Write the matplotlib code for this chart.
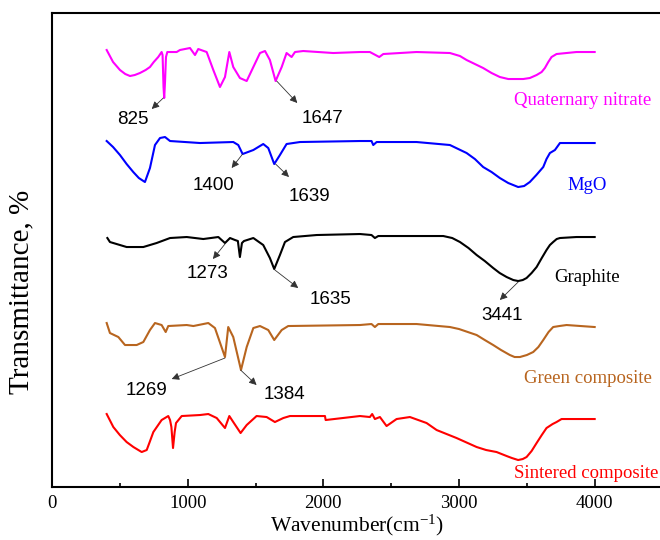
import matplotlib
matplotlib.use("Agg")
import matplotlib.pyplot as plt
from matplotlib.ticker import MultipleLocator

plt.rcParams['mathtext.fontset'] = 'custom'
plt.rcParams['mathtext.rm'] = 'Liberation Serif'
plt.rcParams['mathtext.default'] = 'regular'

serif = 'Liberation Serif'
sans = 'Liberation Sans'

# spectra, shifted vertically (arbitrary units)
qn_wn = [403, 450, 501, 540, 575, 610, 648, 690, 722, 750, 783, 808, 815, 822, 827, 833, 840,
         850, 870, 919, 943, 1017, 1054, 1078, 1140, 1189, 1238, 1275, 1307, 1336, 1385, 1435,
         1484, 1533, 1570, 1606, 1648, 1693, 1729, 1766, 1791, 1852, 2073, 2270, 2343, 2412,
         2442, 2687, 2933, 3007, 3056, 3117, 3178, 3240, 3301, 3363, 3424, 3473, 3522, 3572,
         3609, 3633, 3658, 3682, 3719, 3866, 4000]
qn_t = [437, 425, 417, 413, 411, 412, 414, 417, 420, 425, 430, 435, 432, 400, 389, 405, 430,
        435, 435, 435, 437, 439, 432, 438, 435, 417, 400, 410, 435, 420, 409, 406,
        420, 434, 436, 427, 406, 420, 434, 430, 435, 436, 434, 435, 435, 430,
        433, 435, 434, 431, 427, 423, 419, 414, 410, 408, 408, 408, 409, 412,
        415, 419, 425, 430, 433, 435, 435]

mgo_wn = [403, 450, 501, 550, 599, 640, 685, 722, 759, 796, 833, 870, 1091, 1336, 1373, 1405,
          1484, 1557, 1594, 1638, 1680, 1729, 1828, 2270, 2355, 2368, 2393, 2687, 2933, 3056,
          3117, 3178, 3240, 3301, 3363, 3436, 3480, 3522, 3570, 3621, 3645, 3670, 3707, 3744,
          3866, 4000]
mgo_t = [346, 340, 332, 323, 315, 309, 305, 319, 342, 349, 350, 346, 344, 345, 342, 333,
         337, 343, 339, 323, 332, 343, 345, 346, 346, 342, 345, 345, 342, 334,
         328, 320, 315, 309, 304, 300, 301, 305, 312, 320, 328, 334, 337, 344,
         344, 344]

gr_wn = [408, 427, 550, 673, 771, 870, 993, 1115, 1226, 1275, 1312, 1349, 1370, 1385, 1400,
         1415, 1484, 1557, 1606, 1638, 1680, 1717, 1778, 1951, 2270, 2355, 2380, 2405, 2884,
         2950, 3007, 3070, 3130, 3190, 3252, 3300, 3351, 3400, 3436, 3470, 3498, 3535, 3572,
         3610, 3645, 3670, 3694, 3720, 3744, 3866, 4000]
gr_t = [249, 245, 240, 240, 244, 249, 250, 248, 250, 244, 249, 247, 246, 230, 244,
        246, 249, 242, 229, 218, 232, 245, 250, 252, 253, 252, 249, 251, 251,
        249, 245, 239, 232, 226, 219, 214, 210, 207, 206, 207, 209, 214, 220,
        229, 237, 242, 245, 248, 249, 250, 250]

gc_wn = [403, 427, 489, 538, 624, 673, 722, 759, 808, 838, 857, 993, 1042, 1152, 1201, 1275,
         1299, 1336, 1393, 1435, 1484, 1533, 1594, 1638, 1693, 1741, 2270, 2355, 2380, 2405,
         2687, 2933, 3000, 3130, 3190, 3252, 3310, 3375, 3410, 3449, 3500, 3547, 3585, 3621,
         3660, 3694, 3740, 3793, 4000]
gc_t = [164, 154, 150, 142, 142, 145, 157, 164, 162, 155, 161, 162, 161, 164, 159, 130,
        160, 150, 117, 140, 159, 161, 157, 147, 157, 161, 162, 163, 160, 163,
        163, 160, 158, 152, 147, 142, 137, 132, 130, 130, 132, 135, 140, 147,
        155, 160, 161, 162, 160]

sc_wn = [403, 452, 500, 550, 600, 661, 698, 720, 747, 808, 857, 870, 880, 892, 904, 914, 956,
         1091, 1152, 1214, 1275, 1307, 1336, 1390, 1435, 1508, 1582, 1643, 1705, 1754, 2012,
         2017, 2270, 2343, 2360, 2380, 2417, 2466, 2540, 2638, 2761, 2835, 2982, 3130, 3200,
         3277, 3351, 3390, 3436, 3470, 3498, 3535, 3572, 3610, 3645, 3690, 3719, 3756, 3915,
         4000]
sc_t = [73, 60, 52, 45, 40, 35, 37, 45, 55, 67, 71, 67, 60, 39, 55, 64, 71,
        72, 73, 69, 59, 71, 65, 54, 62, 71, 70, 65, 69, 71, 71,
        67, 71, 70, 73, 68, 70, 61, 68, 70, 64, 57, 49, 40, 37,
        35, 31, 29, 27, 28, 30, 36, 44, 52, 59, 63, 65, 68, 68,
        68]

names = ['Quaternary nitrate', 'MgO', 'Graphite', 'Green composite', 'Sintered composite']
colors = ['#ff00ff', '#0000ff', '#000000', '#b8651f', '#ff0000']
name_pos = [(3910, 387), (3943, 302), (3946, 210), (3954, 109), (3935, 14)]

# peak labels: text, peak point, arrow head, text position
peaks = ['825', '1647', '1400', '1639', '1273', '1635', '3441', '1269', '1384']
peak_xy = [(820, 389), (1656, 406), (1405, 333), (1648, 323), (1275, 243), (1643, 217),
           (3436, 205), (1275, 129), (1390, 117)]
head_xy = [(735, 378), (1808, 384), (1324, 319), (1747, 310), (1186, 228), (1815, 199),
           (3301, 187), (882, 108), (1508, 102)]
text_xy = [(593, 368), (1993, 369), (1190, 302), (1901, 291), (1146, 214), (2052, 188),
           (3320, 172), (700, 97), (1710, 93)]

fig = plt.figure(figsize=(6.6, 5.4), dpi=100)
ax = fig.add_axes([0.0788, 0.0981, 0.925, 0.8778])

spectra = [(qn_wn, qn_t), (mgo_wn, mgo_t), (gr_wn, gr_t), (gc_wn, gc_t), (sc_wn, sc_t)]
for (wn, t), c in zip(spectra, colors):
    ax.plot(wn, t, color=c, lw=1.5)

for n, c, (x, y) in zip(names, colors, name_pos):
    ax.text(x, y, n, color=c, fontsize=13.5, family=serif, ha='center', va='center')

for lab, p, h, tp in zip(peaks, peak_xy, head_xy, text_xy):
    ax.annotate('', xy=h, xytext=p,
                arrowprops=dict(arrowstyle='-|>', color='#333333', lw=0.6,
                                mutation_scale=11, shrinkA=0, shrinkB=0))
    ax.text(tp[0], tp[1], lab, fontsize=13.5, family=sans, ha='center', va='center')

ax.set_xlim(0, 4500)
ax.set_ylim(0, 474)
ax.set_yticks([])
ax.xaxis.set_major_locator(MultipleLocator(1000))
ax.xaxis.set_minor_locator(MultipleLocator(500))
ax.tick_params(axis='x', which='major', direction='in', length=6, width=1.2, pad=6)
ax.tick_params(axis='x', which='minor', direction='in', length=3, width=1.2)
for lab in ax.get_xticklabels():
    lab.set_family(serif)
    lab.set_fontsize(13.5)
for s in ax.spines.values():
    s.set_linewidth(1.5)

ax.set_xlabel('Wavenumber(cm$^{-1}$)', family=serif, fontsize=15.5, labelpad=0)
fig.text(0.032, 0.459, 'Transmittance, %', family=serif, fontsize=21,
         rotation=90, ha='center', va='center')

fig.savefig('out.png', dpi=100)
